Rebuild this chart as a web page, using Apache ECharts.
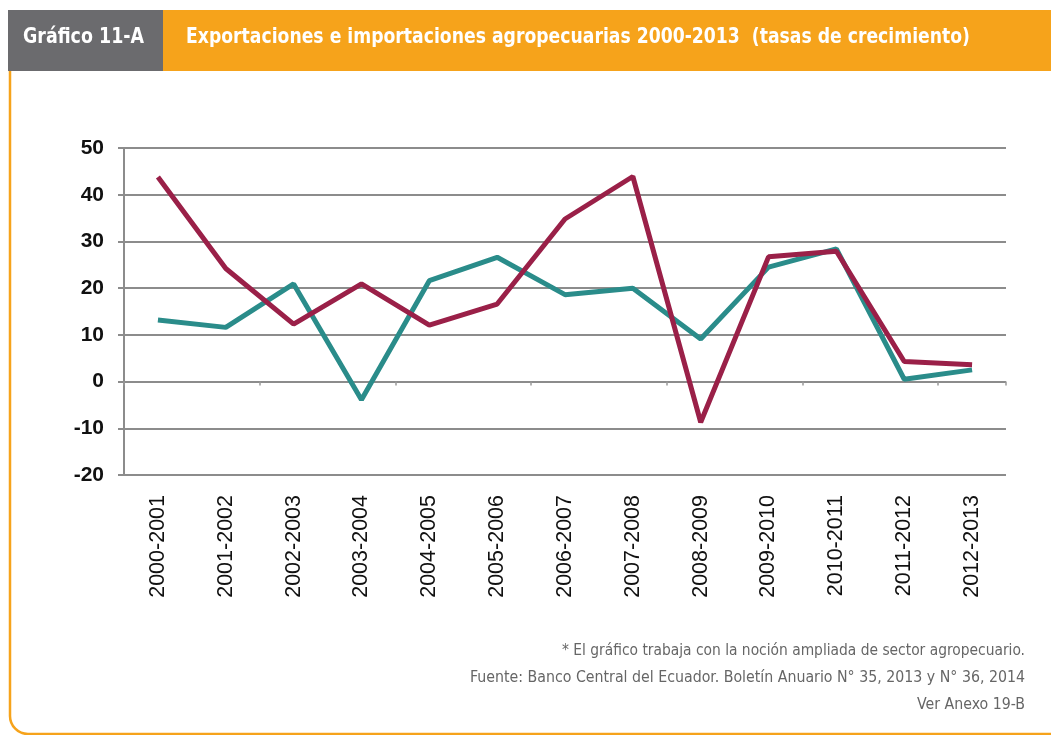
<!DOCTYPE html>
<html>
<head>
<meta charset="utf-8">
<script src="https://cdn.jsdelivr.net/npm/echarts@6/dist/echarts.min.js"></script>
<style>
html,body{margin:0;padding:0;background:#fff;}
#chart{width:1051px;height:735px;}
</style>
</head>
<body>
<div id="chart"></div>
<script>
const categories = ['2000-2001','2001-2002','2002-2003','2003-2004','2004-2005','2005-2006','2006-2007','2007-2008','2008-2009','2009-2010','2010-2011','2011-2012','2012-2013'];
const seriesRed = [43.8, 24.2, 12.3, 20.9, 12.1, 16.6, 34.8, 43.9, -8.7, 26.7, 27.9, 4.3, 3.6];
const seriesTeal = [13.2, 11.6, 20.9, -3.9, 21.6, 26.6, 18.6, 20.0, 9.1, 24.5, 28.4, 0.5, 2.5];
const yTicks = {min: -20, max: 50, interval: 10};
const headerLabel = 'Gráfico 11-A';
const titleText = 'Exportaciones e importaciones agropecuarias 2000-2013  (tasas de crecimiento)';
const notes = [
  '* El gráfico trabaja con la noción ampliada de sector agropecuario.',
  'Fuente: Banco Central del Ecuador. Boletín Anuario N° 35, 2013 y N° 36, 2014',
  'Ver Anexo 19-B'
];

const chart = echarts.init(document.getElementById('chart'), null, {renderer: 'canvas'});
const narrow = '"DejaVu Sans Condensed", "Liberation Sans", sans-serif';
const gridCol = '#8c8c8c';
const orange = '#f6a31b';

// horizontal squeeze factor so condensed text fits the reference width
const mctx = document.createElement('canvas').getContext('2d');
function fitScale(text, font, target) {
  mctx.font = font;
  const w = mctx.measureText(text).width;
  return w > 0 ? target / w : 1;
}
const hdrFont = 'bold 21px ' + narrow;
const noteFont = '16px ' + narrow;
const sHdr = fitScale(headerLabel, hdrFont, 121);
const sTitle = fitScale(titleText, hdrFont, 784);
const sN0 = fitScale(notes[0], noteFont, 463);
const sN1 = fitScale(notes[1], noteFont, 555);
const sN2 = fitScale(notes[2], noteFont, 108);

chart.setOption({
  backgroundColor: '#ffffff',
  animation: false,
  grid: {left: 124, right: 45, top: 148, bottom: 260, containLabel: false},
  xAxis: [{
    type: 'category',
    data: categories,
    boundaryGap: true,
    position: 'bottom',
    axisLine: {show: false, onZero: false},
    axisTick: {show: false},
    axisLabel: {rotate: 90, margin: 20, color: '#111', fontSize: 21.5, fontFamily: 'Liberation Sans, Arial, sans-serif'}
  }, {
    type: 'category',
    data: categories,
    boundaryGap: true,
    position: 'top',
    axisLine: {show: false, onZero: true},
    axisTick: {show: true, inside: true, length: 4, lineStyle: {color: '#999', width: 1.5}},
    axisLabel: {show: false}
  }],
  yAxis: {
    type: 'value',
    min: yTicks.min, max: yTicks.max, interval: yTicks.interval,
    axisLine: {show: true, lineStyle: {color: gridCol, width: 2}},
    axisTick: {show: true, length: 6, lineStyle: {color: gridCol, width: 2}},
    axisLabel: {color: '#111', fontSize: 21, fontWeight: 'bold', fontFamily: 'Liberation Sans, Arial, sans-serif', margin: 20},
    splitLine: {show: true, lineStyle: {color: gridCol, width: 2}}
  },
  series: [{
    name: 'Serie roja',
    type: 'line',
    xAxisIndex: 0,
    data: seriesRed,
    symbol: 'none',
    lineStyle: {color: '#9a2048', width: 5},
    z: 3
  }, {
    name: 'Serie verde',
    type: 'line',
    xAxisIndex: 0,
    data: seriesTeal,
    symbol: 'none',
    lineStyle: {color: '#2a8c8a', width: 5},
    z: 2
  }],
  graphic: [
    {type: 'rect', shape: {x: 8, y: 10, width: 156, height: 61}, style: {fill: '#6b6b6e'}},
    {type: 'rect', shape: {x: 163, y: 10, width: 888, height: 61}, style: {fill: orange}},
    {type: 'text', x: 23, y: 38, scaleX: sHdr, style: {text: headerLabel, fill: '#fff', font: hdrFont, textVerticalAlign: 'middle'}},
    {type: 'text', x: 186, y: 38, scaleX: sTitle, style: {text: titleText, fill: '#fff', font: hdrFont, textVerticalAlign: 'middle'}},
    {type: 'line', shape: {x1: 10, y1: 71, x2: 10, y2: 716}, style: {stroke: orange, lineWidth: 2.5}},
    {type: 'arc', shape: {cx: 28, cy: 716, r: 18, startAngle: Math.PI / 2, endAngle: Math.PI, clockwise: true}, style: {stroke: orange, lineWidth: 2.5, fill: null}},
    {type: 'line', shape: {x1: 28, y1: 734, x2: 1051, y2: 734}, style: {stroke: orange, lineWidth: 2.5}},
    {type: 'text', x: 1025, y: 651, scaleX: sN0, style: {text: notes[0], fill: '#666', font: noteFont, textAlign: 'right', textVerticalAlign: 'middle'}},
    {type: 'text', x: 1025, y: 678, scaleX: sN1, style: {text: notes[1], fill: '#666', font: noteFont, textAlign: 'right', textVerticalAlign: 'middle'}},
    {type: 'text', x: 1025, y: 705, scaleX: sN2, style: {text: notes[2], fill: '#666', font: noteFont, textAlign: 'right', textVerticalAlign: 'middle'}}
  ]
});
</script>
</body>
</html>
